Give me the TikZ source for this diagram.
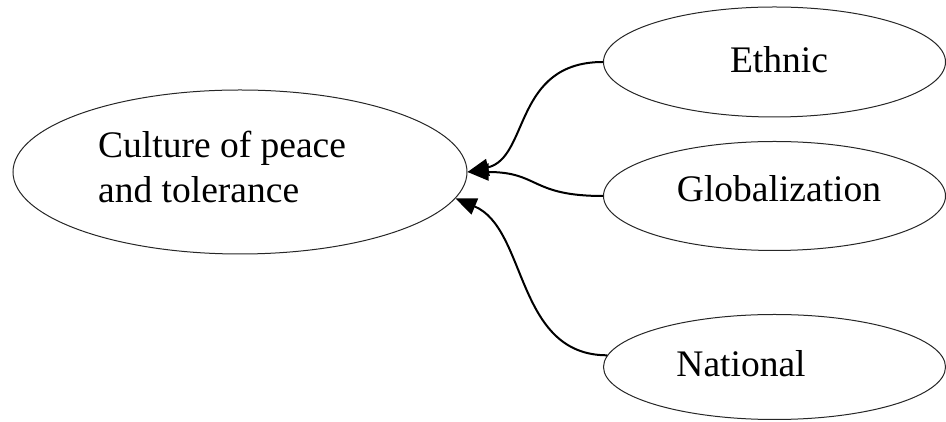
\documentclass[tikz,border=0pt]{standalone}
\usepackage{fontspec}
\setmainfont{Liberation Serif}
\usetikzlibrary{arrows.meta,shapes.geometric}
\begin{document}
\begin{tikzpicture}[x=1pt,y=1pt,
  oval/.style={draw=black!85,line width=1pt,ellipse,inner sep=0pt},
  lbl/.style={inner sep=0pt,font=\fontsize{37.5}{45}\selectfont},
  conn/.style={draw=black,line width=2pt,-{Triangle[length=21pt,width=17pt]}}]
\useasboundingbox (0,0) rectangle (946,422);
\node[oval,minimum width=454pt,minimum height=164pt] (C) at (240,250) {};
\node[oval,minimum width=342pt,minimum height=110pt] (E) at (774.5,360) {};
\node[oval,minimum width=342pt,minimum height=109pt] (G) at (774.5,226) {};
\node[oval,minimum width=342pt,minimum height=105pt] (N) at (774.5,55) {};
\node[lbl,anchor=base west] (c1) at (98,264) {Culture of peace};
\node[lbl,anchor=base west] (c2) at (98,219) {and tolerance};
\node[lbl,anchor=base] (te) at (779,349) {Ethnic};
\node[lbl,anchor=base] (tg) at (779,220) {Globalization};
\node[lbl,anchor=base] (tn) at (741,45) {National};
\draw[conn] (E.west) .. controls +(-90,0) and +(62,14) .. (C.east);
\draw[conn] (G.west) .. controls +(-73,0) and +(72,0) .. (C.east);
\draw[conn] (N.176) .. controls +(-92,0) and +(72,-30) .. (C.-7.5);
\end{tikzpicture}
\end{document}
